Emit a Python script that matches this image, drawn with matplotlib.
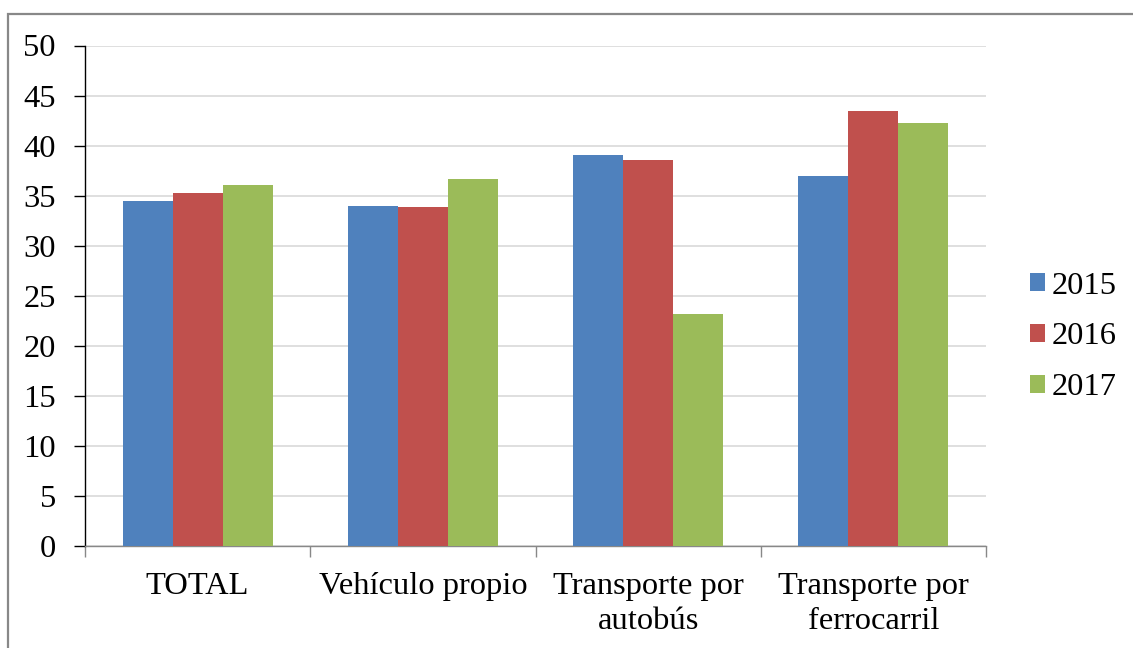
import matplotlib
matplotlib.use("Agg")
import matplotlib.pyplot as plt
from matplotlib.patches import Rectangle
import numpy as np

categories = ["TOTAL", "Vehículo propio", "Transporte por\nautobús", "Transporte por\nferrocarril"]
years = ["2015", "2016", "2017"]
v2015 = [34.5, 34.0, 39.1, 37.0]
v2016 = [35.3, 33.9, 38.6, 43.5]
v2017 = [36.1, 36.7, 23.2, 42.3]
colors = ["#4F81BD", "#C0504D", "#9BBB59"]
yticks = list(range(0, 51, 5))

plt.rcParams['font.family'] = ['Liberation Serif', 'DejaVu Serif']
FS = 23.4

fig = plt.figure(figsize=(11.33, 6.48), dpi=100)
ax = fig.add_axes([85/1133, 1-546/648, (986-85)/1133, (546-45.5)/648])

x = np.arange(len(categories))
w = 0.222
for i, (vals, yr) in enumerate(zip([v2015, v2016, v2017], years)):
    ax.bar(x + (i-1)*w, vals, width=w, color=colors[i], label=yr, zorder=3,
           edgecolor='none')

ax.set_xlim(-0.5, len(categories)-0.5)
ax.set_ylim(0, 50)
ax.set_yticks(yticks)
ax.set_yticklabels([str(t) for t in yticks], fontsize=FS)
ax.set_xticks(x)
ax.set_xticklabels(categories, fontsize=FS, linespacing=1.27)
ax.tick_params(axis='x', length=0, pad=19)
ax.set_xticks(np.arange(-0.5, len(categories)), minor=True)
ax.tick_params(axis='x', which='minor', length=8, width=1, color='#888888', direction='out')
ax.tick_params(axis='y', length=8, width=1, pad=13, direction='out')
ax.grid(axis='y', color='#D9D9D9', linewidth=1.2, zorder=0)
for s in ['top', 'right']:
    ax.spines[s].set_visible(False)
ax.spines['left'].set_color('black')
ax.spines['left'].set_linewidth(1)
ax.spines['bottom'].set_color('#888888')
ax.spines['bottom'].set_linewidth(1)

leg = fig.legend(loc='center left', bbox_to_anchor=(1017/1133, 1-337/648),
                 frameon=False, fontsize=FS, handlelength=0.46, handleheight=0.46,
                 handletextpad=0.2, labelspacing=0.67, borderaxespad=0)

fig.patches.append(Rectangle((8/1133, -0.05), 1.1, 1.05 - 14/648,
                             transform=fig.transFigure, fill=False,
                             edgecolor='#888888', linewidth=1.6, zorder=10))

fig.savefig("out.png", dpi=100)
